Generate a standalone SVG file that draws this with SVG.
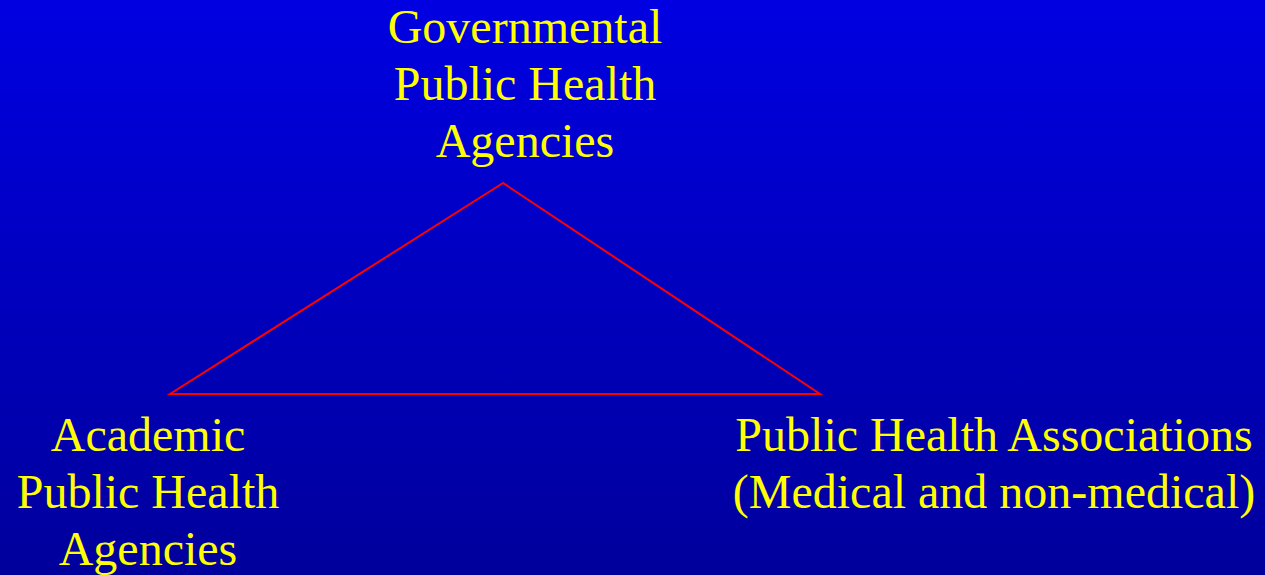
<svg xmlns="http://www.w3.org/2000/svg" width="1265" height="575" viewBox="0 0 1265 575">
<defs>
<linearGradient id="bg" x1="0" y1="0" x2="0" y2="1">
<stop offset="0" stop-color="#0000E2"/>
<stop offset="1" stop-color="#00009C"/>
</linearGradient>
<style>
.t{font-family:"Liberation Serif","Times New Roman",serif;font-size:48px;fill:#FFFF00;text-anchor:middle}
</style>
</defs>
<rect width="1265" height="575" fill="url(#bg)"/>
<g id="connectors">
<polygon points="503,183 170,394 820,394" fill="none" stroke="#FF0000" stroke-width="2"/>
</g>
<g id="node-governmental">
<text class="t" x="525" y="43">Governmental</text>
<text class="t" x="525" y="100">Public Health</text>
<text class="t" x="525" y="157">Agencies</text>
</g>
<g id="node-academic">
<text class="t" x="148" y="451">Academic</text>
<text class="t" x="148" y="508">Public Health</text>
<text class="t" x="148" y="565">Agencies</text>
</g>
<g id="node-associations">
<text class="t" x="994" y="451">Public Health Associations</text>
<text class="t" x="994" y="508">(Medical and non-medical)</text>
</g>
</svg>
